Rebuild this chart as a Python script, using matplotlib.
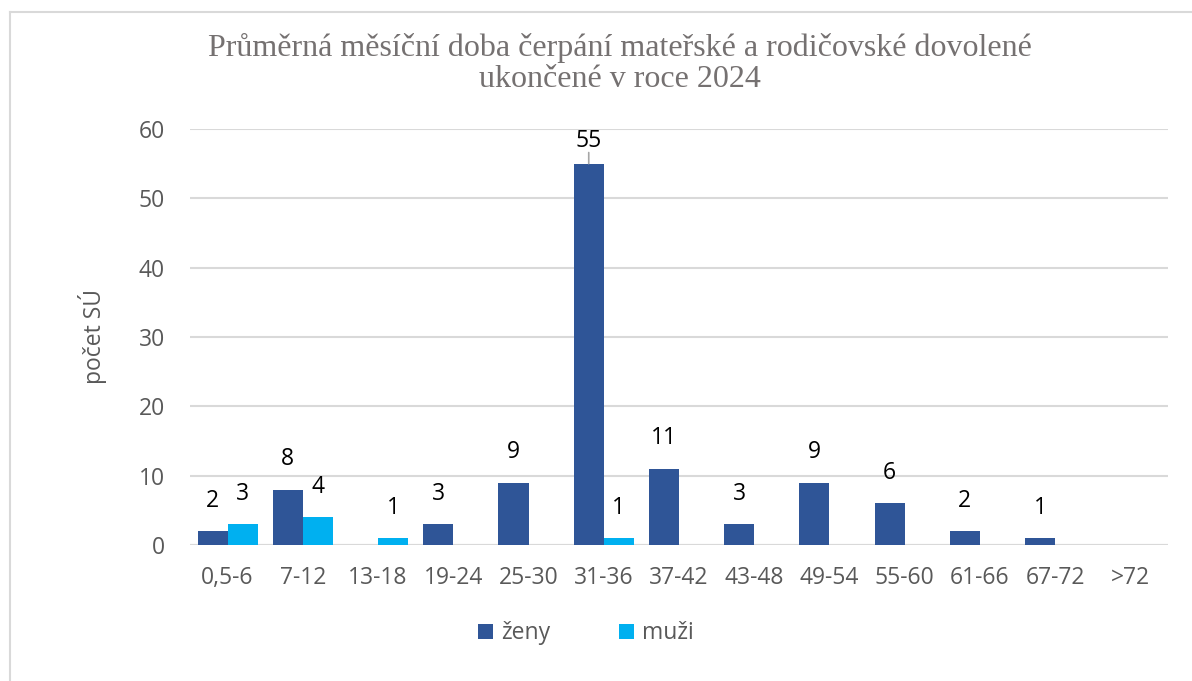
import matplotlib.pyplot as plt
import numpy as np
from matplotlib.lines import Line2D

categories = ["0,5-6", "7-12", "13-18", "19-24", "25-30", "31-36", "37-42",
              "43-48", "49-54", "55-60", "61-66", "67-72", ">72"]
zeny = [2, 8, 0, 3, 9, 55, 11, 3, 9, 6, 2, 1, 0]
muzi = [3, 4, 1, 0, 0, 1, 0, 0, 0, 0, 0, 0, 0]

title = "Průměrná měsíční doba čerpání mateřské a rodičovské dovolené\nukončené v roce 2024"
ylabel = "počet SÚ"

C_ZENY = "#2F5597"
C_MUZI = "#00B0F0"
GRAY = "#595959"
SANS = ["Open Sans", "DejaVu Sans"]

plt.rcParams["font.family"] = SANS

fig = plt.figure(figsize=(11.92, 6.81), dpi=100)
ax = fig.add_axes([0.1594, 0.1997, 0.8205, 0.6109])

x = np.arange(len(categories))
w = 0.4
b1 = ax.bar(x - w / 2, zeny, w, color=C_ZENY, label="ženy", zorder=3)
b2 = ax.bar(x + w / 2, muzi, w, color=C_MUZI, label="muži", zorder=3)

# data labels, only for non-zero values
for bars, vals in ((b1, zeny), (b2, muzi)):
    for bar, v in zip(bars, vals):
        if v == 0:
            continue
        cx = bar.get_x() + bar.get_width() / 2
        if v == max(zeny):
            # label moved up a bit with a leader line, as in the original
            ax.annotate(str(v), (cx, v), xytext=(0, 16), textcoords="offset points",
                        ha="center", va="center", fontsize=16.5, color="black")
            ax.annotate("", (cx, v), xytext=(0, 8), textcoords="offset points",
                        arrowprops=dict(arrowstyle="-", color="#A6A6A6", lw=1.2,
                                        shrinkA=0, shrinkB=0))
        else:
            ax.annotate(str(v), (cx, v), xytext=(0, 22), textcoords="offset points",
                        ha="center", va="center", fontsize=16.5, color="black")

ax.set_xlim(-0.5, len(categories) - 0.5)
ax.set_ylim(0, 60)
ax.set_yticks(range(0, 61, 10))
ax.set_xticks(x)
ax.set_xticklabels(categories)
ax.tick_params(axis="both", length=0, labelsize=16.5, colors=GRAY)
ax.tick_params(axis="x", pad=15)
ax.tick_params(axis="y", pad=18)
ax.yaxis.grid(True, color="#D9D9D9", lw=1.5, zorder=0)
ax.set_axisbelow(True)
for s in ax.spines.values():
    s.set_visible(False)
ax.axhline(0, color="#D9D9D9", lw=1.5, zorder=2)

ax.set_ylabel(ylabel, fontsize=16.5, color=GRAY, labelpad=23)

fig.text(0.52, 0.907, title, ha="center", va="center", fontsize=23,
         color="#757171", family=["Liberation Serif", "DejaVu Serif"],
         linespacing=1.1)

leg = fig.legend(handles=[b1, b2], loc="center", bbox_to_anchor=(0.4915, 0.07),
                 ncol=2, frameon=False, fontsize=16.5, handlelength=0.65,
                 handleheight=0.65, handletextpad=0.35, columnspacing=3.0)
for t in leg.get_texts():
    t.set_color(GRAY)

# chart area border (top and left edges visible in the original crop)
fig.add_artist(Line2D([10 / 1192, 10 / 1192], [0, 1 - 12 / 681],
                      transform=fig.transFigure, color="#D9D9D9", lw=1.5))
fig.add_artist(Line2D([10 / 1192, 1], [1 - 12 / 681, 1 - 12 / 681],
                      transform=fig.transFigure, color="#D9D9D9", lw=1.5))

fig.savefig("out.png", dpi=100)
